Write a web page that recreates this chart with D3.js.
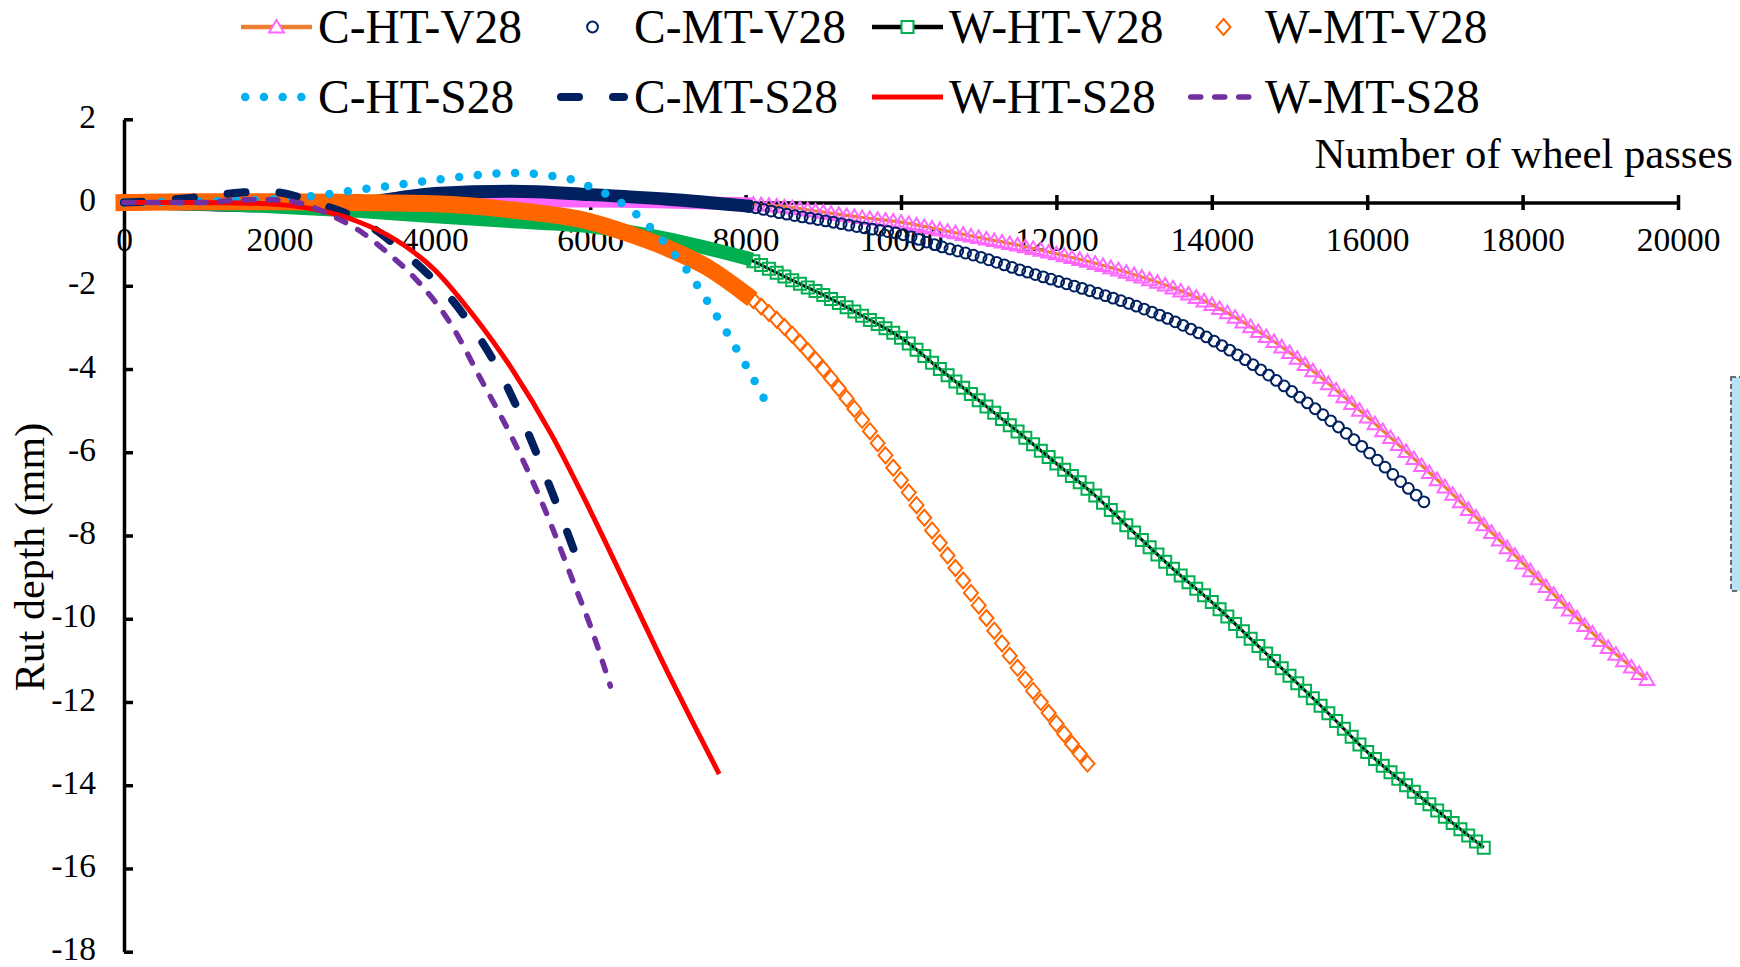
<!DOCTYPE html>
<html>
<head>
<meta charset="utf-8">
<script src="https://cdnjs.cloudflare.com/ajax/libs/d3/7.8.5/d3.min.js"></script>
<style>
  body { margin: 0; background: #fff; }
  svg text { font-family: 'Times New Roman', 'Liberation Serif', serif; fill: #000; }
</style>
</head>
<body>
<svg id="chart" width="1740" height="967"></svg>
<script>
// rut depth (mm) vs number of wheel passes
const xTickValues = [0, 2000, 4000, 6000, 8000, 10000, 12000, 14000, 16000, 18000, 20000]
const yTickValues = [2, 0, -2, -4, -6, -8, -10, -12, -14, -16, -18]

// [passes, rut depth]
const cHtV28 = [[0, 0], [2000, 0], [4000, 0.04], [6000, 0.04], [8000, -0.03], [8500, -0.1], [9000, -0.23], [9500, -0.36],
  [10000, -0.47], [10500, -0.65], [11000, -0.84], [11500, -1.02], [12000, -1.23], [12500, -1.46], [13000, -1.73],
  [13500, -2.05], [14000, -2.45], [14500, -2.98], [15000, -3.6], [15500, -4.35], [16000, -5.15], [16500, -5.98],
  [17000, -6.83], [17500, -7.74], [18000, -8.66], [18500, -9.6], [19000, -10.52], [19600, -11.46]]
const cMtV28 = [[0, 0], [1000, -0.05], [2000, -0.08], [3000, -0.02], [3500, 0.1], [4000, 0.22], [5000, 0.27], [6000, 0.19],
  [7000, 0.08], [8000, -0.08], [8500, -0.27], [9000, -0.43], [9500, -0.6], [10000, -0.76], [10500, -1.05], [11000, -1.3],
  [11500, -1.6], [12000, -1.88], [12500, -2.16], [13000, -2.47], [13500, -2.84], [14000, -3.3], [14500, -3.86],
  [15000, -4.5], [15500, -5.2], [16000, -5.97], [16500, -6.82], [16730, -7.19]]
const wHtV28 = [[0, 0], [1000, -0.03], [2000, -0.1], [3000, -0.2], [4000, -0.33], [5000, -0.45], [6000, -0.57], [7000, -0.88],
  [8000, -1.33], [8500, -1.78], [9000, -2.22], [9500, -2.72], [10000, -3.25], [10500, -4.0], [11000, -4.75], [11500, -5.5],
  [12000, -6.27], [12500, -7.04], [13000, -7.93], [13500, -8.8], [14000, -9.6], [14500, -10.48], [15000, -11.37],
  [15500, -12.27], [16000, -13.2], [16500, -14.0], [17000, -14.76], [17500, -15.5]]
const wMtV28 = [[0, 0], [1000, 0.02], [2000, 0.02], [3000, 0], [4000, -0.03], [5000, -0.18], [6000, -0.46], [6500, -0.75],
  [7000, -1.1], [7500, -1.55], [8000, -2.2], [8500, -2.99], [9000, -4.0], [9500, -5.22], [10000, -6.67], [10500, -8.18],
  [11000, -9.68], [11500, -11.18], [12000, -12.52], [12400, -13.48]]
const cHtS28 = [[0, 0], [1000, 0.03], [2000, 0.09], [2500, 0.17], [3000, 0.3], [3500, 0.42], [4000, 0.545], [4500, 0.65],
  [5000, 0.71], [5500, 0.64], [5800, 0.53], [6000, 0.38], [6250, 0.16], [6500, -0.14], [6750, -0.55], [7000, -1.06],
  [7250, -1.64], [7500, -2.35], [7750, -3.1], [8000, -3.9], [8280, -4.86]]
const cMtS28 = [[0, 0], [500, 0.05], [1000, 0.14], [1500, 0.24], [1800, 0.27], [2100, 0.21], [2400, 0.03], [2700, -0.15],
  [3000, -0.38], [3300, -0.74], [3600, -1.2], [3900, -1.7], [4200, -2.29], [4500, -3.04], [4800, -3.95], [5100, -5.1],
  [5400, -6.45], [5600, -7.4], [5790, -8.35]]
const wHtS28 = [[0, 0], [1000, 0], [1500, -0.01], [2000, -0.05], [2500, -0.18], [3000, -0.45], [3500, -0.9], [4000, -1.62],
  [4500, -2.72], [5000, -4.02], [5500, -5.57], [6000, -7.4], [6500, -9.35], [7000, -11.3], [7300, -12.42], [7660, -13.73]]
const wMtS28 = [[0, 0], [1000, 0], [1600, 0.07], [2000, 0.06], [2300, -0.03], [2700, -0.34], [3000, -0.64], [3400, -1.22],
  [3800, -1.93], [4200, -2.9], [4600, -4.27], [5000, -5.67], [5400, -7.3], [5800, -9.2], [6000, -10.16], [6260, -11.62]]

// V28 tests were logged densely up to 8000 passes, then every 100 passes
const denseEnd = 8000
const markerStep = 100

const symbolPath = {
  triangle: 'M0,-7L7.4,5.6L-7.4,5.6Z',
  circle: 'M5.4,0A5.4,5.4 0 1,1 -5.4,0A5.4,5.4 0 1,1 5.4,0Z',
  square: 'M-6,-6H6V6H-6Z',
  diamond: 'M0,-8L7,0L0,8L-7,0Z'
}

const series = [
  { name: 'C-HT-V28', data: cHtV28, stroke: '#ED7D31', width: 3.2, marker: 'triangle', mcolor: '#FF66FF', band: 13 },
  { name: 'C-MT-V28', data: cMtV28, stroke: null, marker: 'circle', mcolor: '#002060', band: 13 },
  { name: 'W-HT-V28', data: wHtV28, stroke: '#000', width: 3, marker: 'square', mcolor: '#00B050', band: 14 },
  { name: 'W-MT-V28', data: wMtV28, stroke: null, marker: 'diamond', mcolor: '#FF6600', band: 17 },
  { name: 'C-HT-S28', data: cHtS28, stroke: '#00B0F0', width: 8.5, dash: '0 18.7', cap: 'round' },
  { name: 'C-MT-S28', data: cMtS28, stroke: '#002060', width: 8, dash: '18 34', cap: 'round' },
  { name: 'W-HT-S28', data: wHtS28, stroke: '#FF0000', width: 5 },
  { name: 'W-MT-S28', data: wMtS28, stroke: '#7030A0', width: 5.5, dash: '10 14', cap: 'round' }
]

var svg = d3.select('#chart')
svg.append('rect').attr('width', 1740).attr('height', 967).attr('fill', '#fff')

var x = d3.scaleLinear().domain([0, 20000]).range([124, 1678])
var y = d3.scaleLinear().domain([-18, 2]).range([951.7, 119.3])

// plain hyphen for negatives, as in the original
var fmt = function(d) { return String(d) }

// axes
var xAxis = svg.append('g')
  .attr('transform', 'translate(0,' + y(0) + ')')
  .call(d3.axisBottom(x).tickValues(xTickValues).tickSizeInner(7.5).tickSizeOuter(0).tickPadding(17.5)
    .tickFormat(fmt))
xAxis.selectAll('.tick line').attr('y1', -7.5)

var yAxis = svg.append('g')
  .attr('transform', 'translate(' + x(0) + ',0)')
  .call(d3.axisLeft(y).tickValues(yTickValues).tickSizeInner(-9).tickSizeOuter(0).tickPadding(28)
    .tickFormat(fmt))
yAxis.selectAll('.tick text').attr('dy', '0.24em')

svg.selectAll('.domain, .tick line').attr('stroke', '#000').attr('stroke-width', 3.5)
svg.selectAll('.tick text').attr('font-size', 33.5).attr('font-family', null).attr('fill', '#000')

svg.append('text')
  .attr('x', 1733).attr('y', 168)
  .attr('text-anchor', 'end')
  .attr('font-size', 42.7)
  .text('Number of wheel passes')

svg.append('text')
  .attr('transform', 'translate(44,557) rotate(-90)')
  .attr('text-anchor', 'middle')
  .attr('font-size', 42)
  .text('Rut depth (mm)')

var line = d3.line()
  .x(function(d) { return x(d[0]) })
  .y(function(d) { return y(d[1]) })
  .curve(d3.curveMonotoneX)

// marker positions every 100 passes along the drawn curve (x is monotone)
function markerPoints(node, data) {
  var total = node.getTotalLength()
  var last = data[data.length - 1][0]
  var pts = []
  for (var v = last; v > denseEnd; v -= markerStep) {
    var px = x(v), lo = 0, hi = total
    for (var k = 0; k < 28; k++) {
      var mid = (lo + hi) / 2
      if (node.getPointAtLength(mid).x < px) lo = mid
      else hi = mid
    }
    pts.push(node.getPointAtLength(hi))
  }
  return pts
}

var plot = svg.append('g')

series.forEach(function(s) {
  var g = plot.append('g')
  var path = g.append('path')
    .datum(s.data)
    .attr('d', line)
    .attr('fill', 'none')
    .attr('stroke', s.stroke || 'none')
    .attr('stroke-width', s.width || 0)
    .attr('stroke-dasharray', s.dash || null)
    .attr('stroke-linecap', s.cap || 'butt')
    .attr('stroke-linejoin', 'round')

  if (!s.marker) return

  // densely logged part: markers overlap into a solid band
  g.append('path')
    .datum(s.data.filter(function(d) { return d[0] <= denseEnd }))
    .attr('d', line)
    .attr('fill', 'none')
    .attr('stroke', s.mcolor)
    .attr('stroke-width', s.band)
    .attr('stroke-linecap', 'square')

  g.selectAll('.marker')
    .data(markerPoints(path.node(), s.data))
    .enter().append('path')
    .attr('class', 'marker')
    .attr('transform', function(p) { return 'translate(' + p.x + ',' + p.y + ')' })
    .attr('d', symbolPath[s.marker])
    .attr('fill', 'none')
    .attr('stroke', s.mcolor)
    .attr('stroke-width', 2)
})

// legend, two rows of four
var legendCols = [241, 557, 872, 1188]
var legendRows = [27, 97]
series.forEach(function(s, i) {
  var x0 = legendCols[i % 4], cy = legendRows[Math.floor(i / 4)]
  var g = svg.append('g')
  if (s.stroke) {
    var inset = s.cap === 'round' ? s.width / 2 : 0
    g.append('line')
      .attr('x1', x0 + inset).attr('x2', x0 + 71 - inset)
      .attr('y1', cy).attr('y2', cy)
      .attr('stroke', s.stroke)
      .attr('stroke-width', s.marker ? 4.5 : s.width)
      .attr('stroke-dasharray', s.dash || null)
      .attr('stroke-linecap', s.cap || 'butt')
  }
  if (s.marker) {
    g.append('path')
      .attr('transform', 'translate(' + (x0 + 35.5) + ',' + cy + ')')
      .attr('d', symbolPath[s.marker])
      .attr('fill', s.stroke ? '#fff' : 'none')
      .attr('stroke', s.mcolor)
      .attr('stroke-width', 2)
  }
  g.append('text')
    .attr('x', x0 + 77).attr('y', cy + 16)
    .attr('font-size', 47.5)
    .text(s.name)
})

// partly cropped shape at the right edge of the original figure
svg.append('rect')
  .attr('x', 1731).attr('y', 377)
  .attr('width', 20).attr('height', 214)
  .attr('fill', '#B4E4F6')
  .attr('stroke', '#404040')
  .attr('stroke-width', 1.5)
  .attr('stroke-dasharray', '5 3')
</script>
</body>
</html>
